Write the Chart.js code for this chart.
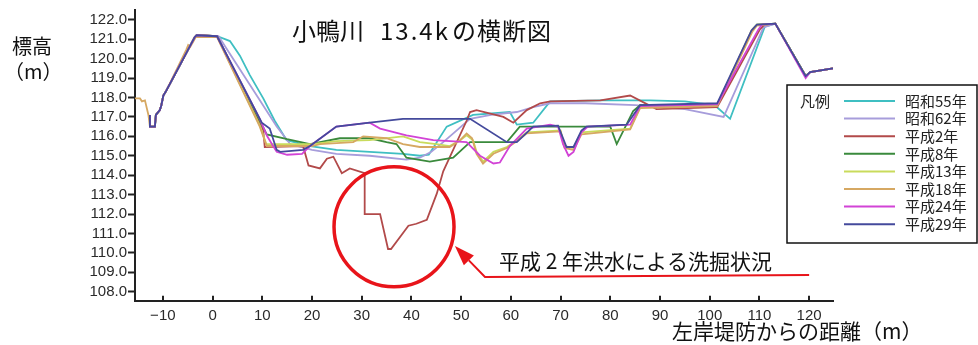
<!DOCTYPE html>
<html>
<head>
<meta charset="utf-8">
<script src="https://cdn.jsdelivr.net/npm/chart.js@4.4.1/dist/chart.umd.min.js"></script>
<style>
  html, body { margin: 0; padding: 0; background: #fff; }
  #wrap { position: relative; width: 978px; height: 345px; }
  canvas { display: block; }
</style>
</head>
<body>
<div id="wrap"><canvas id="c" width="978" height="345"></canvas></div>
<script>
// 小鴨川 13.4k 横断図: distance from the left-bank levee (m) vs. elevation (m)
const seriesNames = ['昭和55年', '昭和62年', '平成2年', '平成8年', '平成13年', '平成18年', '平成24年', '平成29年'];
const seriesColors = ['#3fbfc2', '#a79ddb', '#b24a4a', '#3a8a3c', '#c9db5c', '#d6a862', '#d243d6', '#444a9c'];

const xTicks = [-10, 0, 10, 20, 30, 40, 50, 60, 70, 80, 90, 100, 110, 120];
const yTicks = [108, 109, 110, 111, 112, 113, 114, 115, 116, 117, 118, 119, 120, 121, 122];

// survey points [distance, elevation]
const s55 = [[-12.6,117.1],[-12.6,116.5],[-11.6,116.5],[-11.4,117.1],[-10.6,117.35],[-10.3,117.6],[-9.9,118.1],[-9.3,118.35],[-3.6,121.1],[-3.2,121.2],[0.9,121.15],[2.5,121.0],[3.5,120.9],[5.5,120.15],[7.5,119.15],[10.2,117.95],[12.5,116.8],[14.9,115.8],[19.6,115.5],[24.9,115.3],[31.6,115.2],[38.3,115.1],[41.7,115.0],[43.5,115.05],[47.1,116.5],[52.4,117.1],[59.8,117.25],[61.2,116.6],[64.5,116.7],[67.9,117.8],[78,117.85],[88,117.85],[95,117.8],[101,117.6],[104.1,116.9],[111.1,121.65],[113.2,121.8],[119.3,119.1],[120.2,119.3],[124.8,119.5]];
const s62 = [[-12.6,117.1],[-12.6,116.5],[-11.6,116.5],[-11.4,117.1],[-10.6,117.35],[-10.3,117.6],[-9.9,118.1],[-9.3,118.35],[-3.6,121.1],[-3.2,121.2],[1.2,121.15],[7.5,118.65],[12.9,116.5],[15.6,115.6],[20,115.3],[24.9,115.1],[31.6,115.0],[39,114.8],[41.7,114.9],[44,115.2],[46.4,115.7],[51.8,116.9],[56,117.1],[61.2,117.25],[64.5,117.5],[67.9,117.7],[75,117.7],[85,117.6],[95,117.4],[102.8,117.0],[110.8,121.6],[113.2,121.8],[119.3,119.1],[120.2,119.3],[124.8,119.5]];
const h2 = [[-12.6,117.1],[-12.6,116.5],[-11.6,116.5],[-11.4,117.1],[-10.6,117.35],[-10.3,117.6],[-9.9,118.1],[-9.3,118.35],[-3.6,121.1],[-3.2,121.2],[0.9,121.15],[10.2,116.3],[10.5,115.45],[18.2,115.5],[19.3,114.5],[21.6,114.35],[23,114.85],[24.3,114.95],[26,114.1],[27.6,114.35],[30.6,114.1],[30.6,112.0],[33.7,112.0],[35.3,110.2],[35.9,110.2],[39.4,111.4],[41,111.5],[43.1,111.7],[45.1,113.05],[46.4,114.2],[51.1,116.8],[51.8,117.25],[53.1,117.35],[58.5,117.0],[60.5,116.7],[63.2,117.35],[65.9,117.7],[67.9,117.8],[78,117.85],[84,118.1],[89.3,117.4],[101.5,117.5],[110.1,121.5],[111,121.75],[113.2,121.8],[119.3,119.1],[120.2,119.3],[124.8,119.5]];
const h8 = [[-12.6,117.1],[-12.6,116.5],[-11.6,116.5],[-11.4,117.1],[-10.6,117.35],[-10.3,117.6],[-9.9,118.1],[-9.3,118.35],[-3.6,121.1],[-3.2,121.2],[0.9,121.15],[9.9,116.6],[10.9,116.1],[15,115.85],[19.6,115.6],[21.6,115.7],[25.6,115.9],[31.6,115.9],[35,115.7],[37,115.6],[39,114.9],[43.7,114.7],[48.4,114.9],[51.8,115.7],[59.2,115.7],[61.8,116.5],[80,116.5],[81.3,115.6],[84.6,117.3],[86,117.6],[101.5,117.6],[108.6,121.5],[109.5,121.75],[113.2,121.8],[119.3,119.1],[120.2,119.3],[124.8,119.5]];
const h13 = [[-12.6,117.1],[-12.6,116.5],[-11.6,116.5],[-11.4,117.1],[-10.6,117.35],[-10.3,117.6],[-9.9,118.1],[-9.3,118.35],[-3.6,121.1],[-3.2,121.2],[0.9,121.15],[9.6,116.5],[10.8,115.6],[15,115.6],[20,115.6],[24.9,115.75],[31.6,115.8],[38.3,116.0],[41.7,115.7],[45,115.6],[47.7,115.5],[49.8,115.8],[51.1,116.05],[52.4,115.8],[53.1,115.2],[54.4,114.7],[56.5,115.2],[59.2,115.45],[61.2,115.8],[63.2,116.2],[70,116.3],[70.8,115.5],[72.6,115.4],[74.2,116.2],[84,116.4],[86,117.5],[101.5,117.6],[108.4,121.45],[109.5,121.75],[113.2,121.8],[119.3,119.1],[120.2,119.3],[124.8,119.5]];
const h18 = [[-15.6,117.95],[-14.6,117.95],[-14.2,117.8],[-13.6,117.85],[-12.9,117.1],[-12.6,116.5],[-11.6,116.5],[-11.4,117.1],[-10.6,117.35],[-10.3,117.6],[-9.9,118.1],[-9.3,118.35],[-5.3,120.45],[-4.9,120.7],[-4.5,120.6],[-3.4,121.1],[0.9,121.1],[9.5,116.5],[10.9,115.5],[15,115.5],[20,115.5],[21.6,115.6],[28.3,115.7],[30.3,116.0],[35,115.9],[38.3,115.6],[41.7,115.45],[47.7,115.45],[49.8,115.8],[51.1,116.15],[52.2,115.9],[53.1,115.1],[54.4,114.6],[56.5,115.1],[59.2,115.4],[61.2,115.75],[63.2,116.15],[70,116.25],[70.8,115.4],[72.6,115.3],[74.2,116.1],[84,116.35],[86,117.45],[101.5,117.55],[108.6,121.4],[109.5,121.7],[113.2,121.8],[119.3,119.1],[120.2,119.3],[124.8,119.5]];
const h24 = [[-12.6,117.1],[-12.6,116.5],[-11.6,116.5],[-11.4,117.1],[-10.6,117.35],[-10.3,117.6],[-9.9,118.1],[-9.3,118.35],[-3.6,121.1],[-3.2,121.2],[0.9,121.15],[9.5,116.9],[11,116.0],[12.9,115.2],[15,115.05],[18,115.1],[19.6,115.5],[24.9,116.5],[31.6,116.7],[33.7,116.4],[39,116.05],[44.4,115.8],[51.1,115.7],[53.8,115.0],[56.5,114.6],[57.8,114.65],[59.8,115.5],[63.2,116.4],[67.9,116.6],[69.5,116.5],[70.5,115.6],[71.6,115.0],[72.6,115.2],[74.2,116.2],[75.5,116.5],[84,116.6],[86,117.55],[101.5,117.65],[109.8,121.5],[110.5,121.75],[113.2,121.8],[119.3,119.0],[120.2,119.3],[124.8,119.5]];
const h29 = [[-12.6,117.1],[-12.6,116.5],[-11.6,116.5],[-11.4,117.1],[-10.6,117.35],[-10.3,117.6],[-9.9,118.1],[-9.3,118.35],[-3.6,121.1],[-3.2,121.2],[0.9,121.15],[9.9,116.7],[11.5,116.4],[12.9,115.3],[13.6,115.2],[18.2,115.3],[19.6,115.5],[24.9,116.5],[31.6,116.7],[38.3,116.9],[44.4,116.9],[51.8,116.9],[59.2,115.7],[61.2,115.7],[64.5,116.5],[69.5,116.55],[70.5,115.9],[71.2,115.45],[72.6,115.45],[74.2,116.3],[75.2,116.5],[83.3,116.6],[86,117.6],[101.5,117.7],[108.4,121.45],[109.5,121.75],[113.2,121.8],[119.3,119.1],[120.2,119.3],[124.8,119.5]];
const allSeries = [s55, s62, h2, h8, h13, h18, h24, h29];

// scour callout (data coordinates)
const scourCenter = [36.5, 111.34];
const arrowTip = [48.75, 110.35];
const arrowElbow = [54.8, 108.76];
const arrowEnd = [120, 108.86];
const scourText = '平成 2 年洪水による洗掘状況';

const JP = '"Noto Sans CJK JP", "Noto Sans", sans-serif';

const datasets = allSeries.map((pts, i) => ({
  label: seriesNames[i],
  data: pts.map(([x, y]) => ({ x, y })),
  borderColor: seriesColors[i],
  backgroundColor: seriesColors[i],
  borderWidth: 1.8,
  pointRadius: 0,
  tension: 0,
  order: allSeries.length - i
}));

const decor = {
  id: 'decor',
  afterDraw(chart) {
    const { ctx, chartArea: a } = chart;
    const sx = chart.scales.x, sy = chart.scales.y;
    const px = v => sx.getPixelForValue(v), py = v => sy.getPixelForValue(v);
    ctx.save();

    // inward tick marks on the distance axis
    ctx.strokeStyle = '#222';
    ctx.lineWidth = 2;
    xTicks.forEach(v => {
      const X = Math.round(px(v));
      ctx.beginPath(); ctx.moveTo(X, a.bottom); ctx.lineTo(X, a.bottom - 5); ctx.stroke();
    });

    // titles
    ctx.fillStyle = '#111';
    ctx.textBaseline = 'middle';
    ctx.textAlign = 'left';
    ctx.font = '24px ' + JP;
    ctx.fillText('小鴨川', 292, 31);
    ctx.letterSpacing = '2px';
    ctx.fillText('13.4k', 380, 31);
    ctx.letterSpacing = '1px';
    ctx.fillText('の横断図', 452, 31);
    ctx.letterSpacing = '0px';
    ctx.font = '20px ' + JP;
    ctx.fillText('標高', 12, 46);
    ctx.fillText('（m）', 4, 71);
    ctx.font = '21px ' + JP;
    ctx.fillText('左岸堤防からの距離（m）', 672, 331);

    // legend
    ctx.lineWidth = 1.5;
    ctx.strokeStyle = '#111';
    ctx.strokeRect(787, 85, 190, 158);
    ctx.font = '15px ' + JP;
    ctx.fillStyle = '#222';
    ctx.fillText('凡例', 800, 101);
    seriesNames.forEach((name, i) => {
      const Y = 101 + i * 17.6;
      ctx.strokeStyle = seriesColors[i];
      ctx.lineWidth = 2;
      ctx.beginPath(); ctx.moveTo(844, Y); ctx.lineTo(895, Y); ctx.stroke();
      ctx.fillText(name, 905, Y);
    });

    // scour callout: circle, arrow and caption
    const red = '#e8141a';
    ctx.strokeStyle = red;
    ctx.fillStyle = red;
    ctx.lineWidth = 3.5;
    ctx.beginPath();
    ctx.arc(px(scourCenter[0]), py(scourCenter[1]), 60, 0, Math.PI * 2);
    ctx.stroke();

    const tx = px(arrowTip[0]), ty = py(arrowTip[1]);
    const ex = px(arrowElbow[0]), ey = py(arrowElbow[1]);
    const fx = px(arrowEnd[0]), fy = py(arrowEnd[1]);
    const ang = Math.atan2(ty - ey, tx - ex);
    const headLen = 20, headHalf = 7;
    const bx = tx - Math.cos(ang) * headLen, by = ty - Math.sin(ang) * headLen;
    ctx.lineWidth = 2;
    ctx.beginPath();
    ctx.moveTo(fx, fy); ctx.lineTo(ex, ey); ctx.lineTo(bx, by);
    ctx.stroke();
    ctx.beginPath();
    ctx.moveTo(tx, ty);
    ctx.lineTo(bx + Math.sin(ang) * headHalf, by - Math.cos(ang) * headHalf);
    ctx.lineTo(bx - Math.sin(ang) * headHalf, by + Math.cos(ang) * headHalf);
    ctx.closePath();
    ctx.fill();

    ctx.fillStyle = '#111';
    ctx.font = '21px ' + JP;
    ctx.fillText(scourText, 499, 261);
    ctx.restore();
  }
};

new Chart(document.getElementById('c'), {
  type: 'line',
  data: { datasets },
  options: {
    responsive: false,
    animation: false,
    devicePixelRatio: 1,
    layout: { padding: { left: 0, right: 145, top: 9.6, bottom: 0 } },
    plugins: { legend: { display: false }, tooltip: { enabled: false }, title: { display: false } },
    scales: {
      x: {
        type: 'linear',
        min: -15.6,
        max: 124.8,
        afterFit: s => { s.height = 44.3; },
        afterBuildTicks: s => { s.ticks = xTicks.map(v => ({ value: v })); },
        border: { display: true, color: '#222', width: 2 },
        grid: { display: true, drawOnChartArea: false, drawTicks: false },
        ticks: {
          autoSkip: false,
          maxRotation: 0,
          padding: 6,
          color: '#2a2a2a',
          font: { family: '"Liberation Sans", Arial, sans-serif', size: 15 },
          callback: v => (v < 0 ? '\u2212' + Math.abs(v) : String(v))
        }
      },
      y: {
        type: 'linear',
        min: 107.54,
        max: 122.5,
        afterFit: s => { s.width = 135; },
        afterBuildTicks: s => { s.ticks = yTicks.map(v => ({ value: v })); },
        border: { display: true, color: '#222', width: 2 },
        grid: { display: true, drawOnChartArea: false, drawTicks: true, tickLength: 7, tickWidth: 2, tickColor: '#222' },
        ticks: {
          autoSkip: false,
          padding: 1,
          color: '#2a2a2a',
          font: { family: '"Liberation Sans", Arial, sans-serif', size: 15 },
          callback: v => Number(v).toFixed(1)
        }
      }
    }
  },
  plugins: [decor]
});
</script>
</body>
</html>
